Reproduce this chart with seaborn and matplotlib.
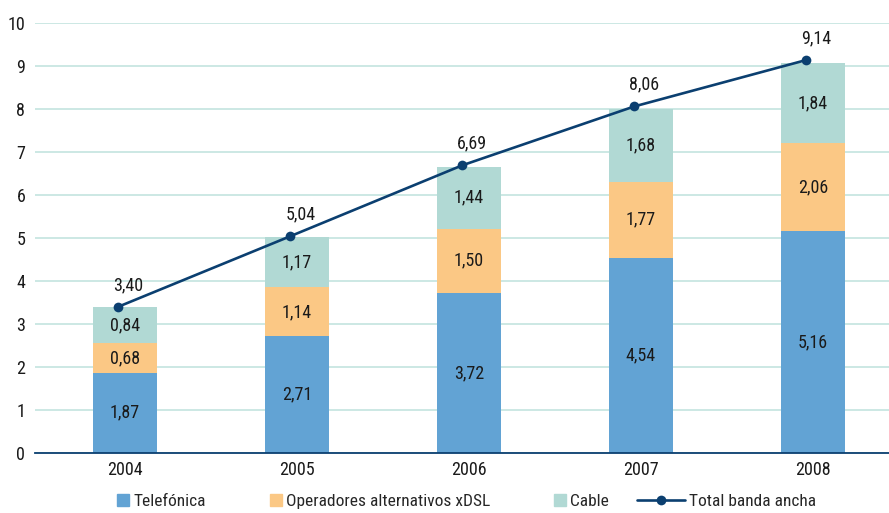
import matplotlib
matplotlib.use("Agg")
import matplotlib.pyplot as plt
import numpy as np
import pandas as pd
import seaborn as sns
from matplotlib.patches import Patch, Rectangle
from matplotlib.lines import Line2D
from matplotlib.legend_handler import HandlerPatch

years = ["2004", "2005", "2006", "2007", "2008"]
telefonica = [1.87, 2.71, 3.72, 4.54, 5.16]
alternativos = [0.68, 1.14, 1.50, 1.77, 2.06]
cable = [0.84, 1.17, 1.44, 1.68, 1.84]
total = [3.40, 5.04, 6.69, 8.06, 9.14]

c_tel = "#62a3d4"
c_alt = "#fbc885"
c_cab = "#b1d9d4"
c_line = "#0b3f70"
c_txt = "#1a1a1a"

sns.set_style("white")
plt.rcParams["font.family"] = ["Roboto Condensed", "Roboto", "DejaVu Sans"]

df = pd.DataFrame({"year": years, "tel": telefonica, "alt": alternativos,
                   "cab": cable, "total": total})
df["s1"] = df["tel"]
df["s2"] = df["tel"] + df["alt"]
df["s3"] = df["s2"] + df["cab"]
df["pos"] = np.arange(len(years))

fig, ax = plt.subplots(figsize=(8.89, 5.13), dpi=100)
fig.subplots_adjust(left=0.0394, right=1.0, bottom=0.117, top=0.955)

w = 0.37
for col, c in [("s3", c_cab), ("s2", c_alt), ("s1", c_tel)]:
    sns.barplot(data=df, x="year", y=col, color=c, width=w, saturation=1,
                linewidth=0, ax=ax, zorder=2)

# total line sits slightly left of the bar centres in the original
sns.lineplot(x=df["pos"] - 0.04, y=df["total"], color=c_line, marker="o",
             markersize=7, markeredgewidth=0, linewidth=1.9, ax=ax, zorder=4)

def fmt(v):
    return f"{v:.2f}".replace(".", ",")

fs = 13
for i in range(len(years)):
    ax.text(i, df["s1"][i] / 2, fmt(telefonica[i]), ha="center", va="center",
            fontsize=fs, color=c_txt, zorder=5)
    ax.text(i, df["s1"][i] + alternativos[i] / 2, fmt(alternativos[i]), ha="center",
            va="center", fontsize=fs, color=c_txt, zorder=5)
    ax.text(i, df["s2"][i] + cable[i] / 2, fmt(cable[i]), ha="center", va="center",
            fontsize=fs, color=c_txt, zorder=5)
    ax.text(i + 0.02, total[i] + 0.3, fmt(total[i]), ha="center", va="bottom",
            fontsize=fs, color=c_txt, zorder=5)

ax.set_ylim(0, 10)
ax.set_xlim(-0.523, 4.442)
ax.set_yticks(range(0, 11))
ax.set_xticks(range(len(years)))
ax.set_xticklabels(years)
ax.yaxis.grid(True, color="#c8e6e2", linewidth=1.3, zorder=0)
ax.set_axisbelow(True)
ax.set_xlabel("")
ax.set_ylabel("")
for s in ["top", "right", "left"]:
    ax.spines[s].set_visible(False)
ax.spines["bottom"].set_color(c_line)
ax.spines["bottom"].set_linewidth(1.3)
ax.set_xticks(np.arange(-0.5, 4.5, 1), minor=True)
ax.tick_params(axis="x", which="major", length=0, labelsize=fs, pad=6, colors=c_txt)
ax.tick_params(axis="x", which="minor", length=5, width=1.3, color=c_line, direction="out")
ax.tick_params(axis="y", length=0, labelsize=fs, pad=7, colors=c_txt)


def square(legend, orig_handle, xdescent, ydescent, width, height, fontsize):
    s = 12 * 72 / 100
    return Rectangle((width - s - xdescent, -ydescent + (height - s) / 2), s, s)


handles = [Patch(color=c_tel), Patch(color=c_alt), Patch(color=c_cab),
           Line2D([0], [0], color=c_line, marker="o", markersize=7,
                  markeredgewidth=0, linewidth=1.9)]
labels = ["Telefónica", "Operadores alternativos xDSL", "Cable", "Total banda ancha"]
fig.legend(handles, labels, loc="lower center", ncol=4, frameon=False,
           bbox_to_anchor=(0.505, -0.022), fontsize=12.5, handlelength=2.75,
           handletextpad=0.25, columnspacing=1.6,
           handler_map={Patch: HandlerPatch(patch_func=square)})

plt.savefig("out.png", dpi=100)
